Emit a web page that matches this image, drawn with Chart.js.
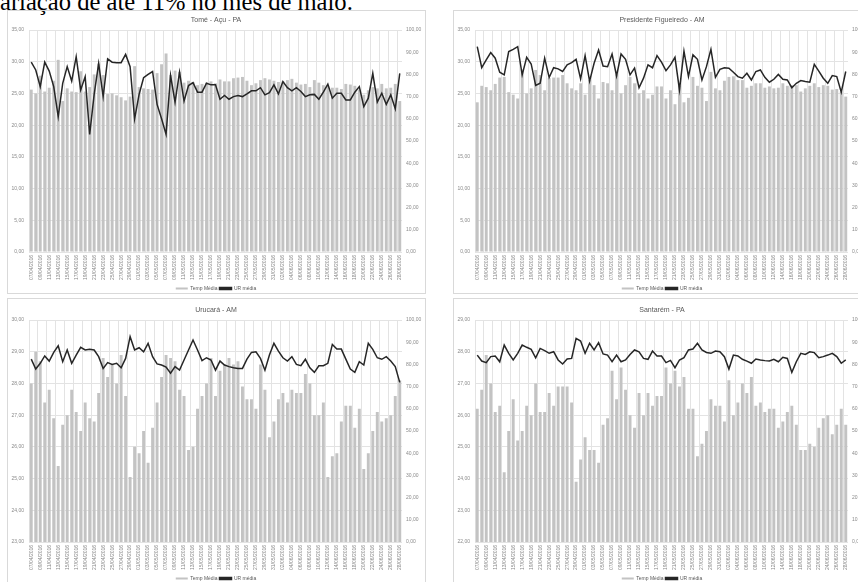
<!DOCTYPE html>
<html lang="pt-BR">
<head>
<meta charset="utf-8">
<script src="https://cdn.jsdelivr.net/npm/chart.js@4.4.1/dist/chart.umd.min.js"></script>
<style>
  html, body { margin: 0; padding: 0; background: #fff; width: 858px; height: 582px; overflow: hidden; position: relative; }
  #frase { position: absolute; left: 0; top: -10px; font: 24.6px/24.6px "Liberation Serif", "Times New Roman", serif; color: #000; white-space: nowrap; }
  .borda { position: absolute; border: 1px solid #d9d9d9; box-sizing: border-box; }
  .painel { position: absolute; width: 416px; height: 283px; }
</style>
</head>
<body>
<div id="frase">ariação de até 11% no mês de maio.</div>

<div class="borda" style="left:7px;top:10px;width:419px;height:284px"></div>
<div class="borda" style="left:453px;top:10px;width:419px;height:284px"></div>
<div class="borda" style="left:7px;top:298px;width:419px;height:300px"></div>
<div class="borda" style="left:453px;top:298px;width:419px;height:300px"></div>

<div class="painel" style="left:8px;top:11px"><canvas id="g-tome"></canvas></div>
<div class="painel" style="left:454px;top:11px"><canvas id="g-presidente"></canvas></div>
<div class="painel" style="left:8px;top:301px"><canvas id="g-urucara"></canvas></div>
<div class="painel" style="left:454px;top:301px"><canvas id="g-santarem"></canvas></div>

<script>
// Temperatura média diária (barras, eixo esquerdo) e umidade relativa média
// (linha, eixo direito) em quatro estações, abril a junho de 2016.

const datas = [
  "07/04/2016", "08/04/2016", "09/04/2016", "10/04/2016", "11/04/2016", "12/04/2016",
  "13/04/2016", "14/04/2016", "15/04/2016", "16/04/2016", "17/04/2016", "18/04/2016",
  "19/04/2016", "20/04/2016", "21/04/2016", "22/04/2016", "23/04/2016", "24/04/2016",
  "25/04/2016", "26/04/2016", "27/04/2016", "28/04/2016", "29/04/2016", "30/04/2016",
  "01/05/2016", "02/05/2016", "03/05/2016", "04/05/2016", "05/05/2016", "06/05/2016",
  "07/05/2016", "08/05/2016", "09/05/2016", "10/05/2016", "11/05/2016", "12/05/2016",
  "13/05/2016", "14/05/2016", "15/05/2016", "16/05/2016", "17/05/2016", "18/05/2016",
  "19/05/2016", "20/05/2016", "21/05/2016", "22/05/2016", "23/05/2016", "24/05/2016",
  "25/05/2016", "26/05/2016", "27/05/2016", "28/05/2016", "29/05/2016", "30/05/2016",
  "31/05/2016", "01/06/2016", "02/06/2016", "03/06/2016", "04/06/2016", "05/06/2016",
  "06/06/2016", "07/06/2016", "08/06/2016", "09/06/2016", "10/06/2016", "11/06/2016",
  "12/06/2016", "13/06/2016", "14/06/2016", "15/06/2016", "16/06/2016", "17/06/2016",
  "18/06/2016", "19/06/2016", "20/06/2016", "21/06/2016", "22/06/2016", "23/06/2016",
  "24/06/2016", "25/06/2016", "26/06/2016", "27/06/2016", "28/06/2016"
];

const tempTome = [
  25.6, 25.0, 27.8, 25.3, 25.9, 27.0, 30.3, 23.8, 25.8, 25.3, 25.2, 28.5, 25.3, 26.0,
  28.0, 29.7, 27.9, 24.9, 25.0, 24.7, 24.4, 23.9, 24.5, 29.3, 26.0, 25.8, 25.7, 25.6,
  28.2, 29.6, 31.3, 27.9, 28.6, 28.4, 26.7, 27.0, 26.8, 26.3, 26.5, 26.7, 26.9, 26.6,
  27.2, 26.9, 26.9, 27.4, 27.5, 27.6, 27.0, 26.3, 26.6, 27.1, 27.4, 27.2, 27.0, 26.8,
  26.9, 27.1, 27.3, 26.7, 26.4, 26.5, 26.0, 27.1, 26.7, 26.3, 26.1, 25.9, 25.9, 25.7,
  26.5, 26.4, 26.2, 25.6, 24.8, 25.5, 26.0, 25.8, 26.5, 25.8, 25.9, 26.5, 23.8
];
const urTome = [
  85.5, 82, 74.5, 85.5, 81.5, 74.5, 61, 76, 83.5, 77, 88, 73, 79, 53, 71, 85, 70, 87,
  85.5, 85.3, 85.3, 89, 83.5, 60, 71, 78.5, 80, 81.3, 66.5, 60, 53, 79.5, 67.5, 81, 68,
  75, 76.3, 72, 72, 76, 75.3, 75.3, 68.8, 70.5, 68.8, 70, 70.5, 70, 71.2, 72.6, 72.6,
  74, 70.8, 71.8, 75.3, 71.2, 76.8, 74, 72.6, 74, 72.3, 70, 70.8, 71, 68.8, 72, 75.6,
  69.3, 71.5, 71.5, 68.5, 68.5, 72, 74.5, 65.5, 69.3, 80.5, 67.5, 71.5, 66.5, 70.8,
  64.5, 80.5
];

const tempPresidente = [
  23.6, 26.2, 26.0, 25.5, 26.5, 27.5, 27.6, 25.2, 24.8, 24.2, 28.8, 25.0, 25.8, 28.7,
  27.9, 25.5, 27.4, 27.5, 27.5, 27.9, 26.6, 25.8, 25.5, 26.6, 24.8, 27.1, 26.3, 24.2,
  26.8, 26.6, 25.5, 28.0, 25.0, 26.3, 27.6, 26.6, 25.0, 25.5, 24.2, 24.8, 26.1, 26.1,
  24.2, 25.5, 23.3, 26.2, 23.6, 24.3, 27.6, 26.2, 25.9, 23.8, 28.4, 25.8, 25.5, 27.0,
  27.6, 27.7, 27.1, 27.1, 25.9, 26.2, 26.6, 26.6, 25.9, 26.1, 25.8, 25.9, 26.6, 26.2,
  26.3, 26.3, 25.3, 25.8, 26.2, 26.6, 26.0, 26.3, 26.2, 25.6, 25.7, 25.3, 24.5
];
const urPresidente = [
  92.5, 83, 86.5, 89.8, 87.3, 81, 79.8, 90.3, 91.3, 92.5, 79.8, 87.7, 84.7, 75, 76,
  87.3, 78.6, 83, 82.5, 81.3, 84.3, 85.3, 86.8, 78, 88.5, 77, 85, 91, 83.8, 83.5, 89.2,
  79.3, 89.2, 86.8, 79.8, 82.8, 74, 78.3, 84.3, 83, 88.5, 85.5, 81.7, 84.3, 87.7, 73,
  90.5, 79, 88.8, 86.8, 77.5, 83.5, 91.3, 78.7, 82.3, 83, 82.8, 81, 79, 78.3, 80.5,
  77.5, 81.3, 82, 78.7, 76.5, 77.8, 80, 77.8, 77.5, 74, 76, 77.2, 76.8, 76.5, 84.5,
  81.5, 78.3, 76, 79.5, 79, 72, 81.3
];

const tempUrucara = [
  28.0, 29.0, 28.7, 27.4, 27.8, 26.9, 25.4, 26.7, 27.0, 27.8, 27.1, 26.5, 27.4, 26.9,
  26.8, 27.7, 28.8, 28.2, 28.6, 28.0, 28.9, 27.6, 25.05, 26.0, 25.8, 26.5, 25.5, 26.6,
  27.4, 28.2, 28.9, 28.8, 28.7, 27.8, 27.6, 25.9, 26.0, 27.2, 27.6, 28.0, 28.8, 27.6,
  28.4, 28.6, 28.8, 28.6, 28.7, 27.9, 27.5, 27.5, 27.2, 28.6, 27.8, 26.3, 26.8, 27.5,
  27.7, 27.4, 27.8, 27.7, 27.7, 28.3, 28.0, 27.0, 27.0, 27.4, 25.05, 25.7, 25.8, 26.8,
  27.3, 27.3, 26.6, 27.2, 25.3, 25.8, 26.5, 27.1, 26.8, 26.9, 27.0, 27.6, 28.1
];
const urUrucara = [
  82.4, 77.9, 80.5, 83.8, 81.5, 85.4, 88.4, 81.2, 86.5, 80.5, 84.2, 87.7, 86.5, 86.8,
  86.5, 83.5, 78.2, 80.8, 80, 80.5, 78.5, 82.7, 92.5, 86.5, 87.5, 85.7, 89.5, 83.5,
  80.2, 79.7, 78.8, 76, 79, 77.4, 82, 86.5, 91, 86.5, 81.7, 83, 82, 77.4, 81.5, 79.7,
  79, 78.5, 78.2, 78.2, 82.4, 85.4, 85.7, 82.7, 77.4, 84.2, 89.5, 86, 83, 81.5, 83.5,
  80, 79.4, 82.3, 78.5, 76.4, 79.4, 79.4, 80.5, 89, 86.9, 86.9, 82.4, 77.9, 76.4, 81.2,
  79.7, 89.5, 86.8, 83, 82.3, 83.5, 81.5, 79, 71.9
];

const tempSantarem = [
  26.2, 26.8, 27.9, 27.0, 26.1, 26.3, 24.2, 25.5, 26.5, 25.2, 25.5, 26.3, 26.0, 27.0,
  26.1, 26.1, 26.7, 26.3, 26.9, 26.9, 26.9, 26.4, 23.9, 24.6, 25.3, 24.9, 24.9, 24.5,
  25.7, 25.9, 27.4, 26.5, 27.5, 26.8, 26.0, 25.6, 26.7, 26.0, 26.7, 26.3, 26.6, 26.6,
  27.5, 27.0, 27.4, 26.9, 27.2, 26.2, 26.2, 24.7, 25.1, 25.5, 26.5, 26.3, 26.3, 25.8,
  27.1, 26.0, 26.4, 27.0, 26.7, 27.2, 26.3, 26.4, 26.1, 26.2, 26.2, 25.6, 25.8, 26.1,
  26.3, 25.7, 24.9, 24.9, 25.1, 25.0, 25.6, 25.9, 26.0, 25.4, 25.7, 26.2, 25.7
];
const urSantarem = [
  84.2, 81.5, 80.8, 83.5, 83.8, 81.2, 88.7, 85, 82, 85, 88.7, 87.7, 86.8, 83, 87.2,
  86.2, 85, 85.7, 82, 80.2, 82.4, 82.7, 91.7, 90.5, 85, 89.5, 86.5, 89.8, 84.7, 84.2,
  81.2, 84.2, 81.2, 82, 84.5, 86.5, 85.7, 82.7, 82.3, 86, 83.8, 83.8, 80.8, 81.8, 78.5,
  82, 83, 86.5, 86.9, 89.5, 86.5, 85.4, 85, 86, 85.7, 83.5, 77.9, 84.2, 83.8, 82.3,
  81.5, 80.5, 82.4, 82, 81.7, 81.5, 82.3, 81.2, 83.2, 82.7, 76.4, 81.2, 85, 84.5, 85.7,
  85.3, 83, 83.5, 84.2, 85, 83.5, 80.5, 82
];

const FONTE = "'Liberation Sans', Arial, sans-serif";
const COR_BARRA = "#c3c3c3";
const COR_LINHA = "#262626";
const COR_GRADE = "#e3e3e3";
const COR_TEXTO = "#8a8a8a";

function formatar(v) {
  return Number(v).toFixed(2).replace(".", ",");
}

function criarPainel(id, titulo, temp, ur, minTemp, maxTemp, passoTemp) {
  new Chart(document.getElementById(id), {
    type: "bar",
    data: {
      labels: datas,
      datasets: [{
        type: "bar",
        label: "Temp Média",
        data: temp,
        backgroundColor: COR_BARRA,
        yAxisID: "y",
        order: 1,
        barPercentage: 0.65,
        categoryPercentage: 1,
      }, {
        type: "line",
        label: "UR média",
        data: ur,
        borderColor: COR_LINHA,
        backgroundColor: COR_LINHA,
        borderWidth: 1.5,
        pointRadius: 0,
        tension: 0,
        yAxisID: "y1",
        order: 0,
      }],
    },
    options: {
      responsive: true,
      maintainAspectRatio: false,
      animation: false,
      layout: { padding: 0 },
      plugins: {
        title: {
          display: true, text: titulo, color: "#595959",
          font: { size: 7, family: FONTE, weight: "normal" },
          padding: { top: 5, bottom: 5.6 },
        },
        legend: {
          position: "bottom", reverse: true, maxHeight: 10,
          labels: { boxWidth: 12, boxHeight: 2, padding: 2, color: "#595959", font: { size: 5, family: FONTE } },
        },
        tooltip: { enabled: false },
      },
      scales: {
        x: {
          ticks: {
            autoSkip: false, maxRotation: 90, minRotation: 90, padding: 3,
            color: COR_TEXTO, font: { size: 5, family: FONTE },
            callback: (v, i) => (i % 2 === 0 ? datas[i] : ""),
          },
          grid: { offset: true, drawTicks: false, color: c => (c.index % 2 === 0 ? COR_GRADE : "rgba(0,0,0,0)") },
          border: { display: false },
          afterFit: s => { s.height = 32; },
        },
        y: {
          position: "left", min: minTemp, max: maxTemp,
          ticks: { stepSize: passoTemp, padding: 5, color: COR_TEXTO, font: { size: 5, family: FONTE }, callback: formatar },
          grid: { color: COR_GRADE, drawTicks: false },
          border: { display: false },
          afterFit: s => { s.width = 21; },
        },
        y1: {
          position: "right", min: 0, max: 100,
          ticks: { stepSize: 10, padding: 4, color: COR_TEXTO, font: { size: 5, family: FONTE }, callback: formatar },
          grid: { drawOnChartArea: false, drawTicks: false },
          border: { display: false },
          afterFit: s => { s.width = 22; },
        },
      },
    },
  });
}

criarPainel("g-tome", "Tomé - Açu - PA", tempTome, urTome, 0, 35, 5);
criarPainel("g-presidente", "Presidente Figueiredo - AM", tempPresidente, urPresidente, 0, 35, 5);
criarPainel("g-urucara", "Urucará - AM", tempUrucara, urUrucara, 23, 30, 1);
criarPainel("g-santarem", "Santarém - PA", tempSantarem, urSantarem, 22, 29, 1);
</script>
</body>
</html>
